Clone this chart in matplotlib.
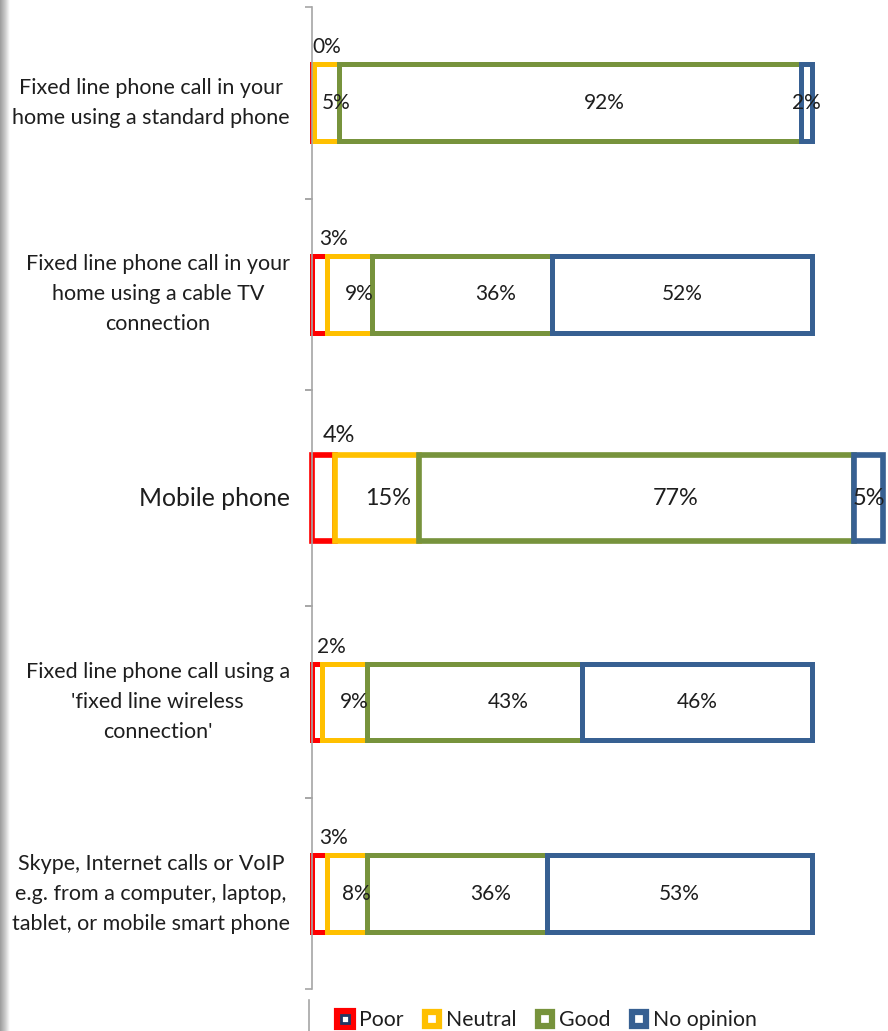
import matplotlib.pyplot as plt
import numpy as np
from matplotlib.lines import Line2D
from matplotlib.colors import LinearSegmentedColormap

plt.rcParams['font.family'] = ['Lato', 'DejaVu Sans']

# Data (percent of respondents)
categories = [
    "Fixed line phone call in your\nhome using a standard phone",
    "Fixed line phone call in your\nhome using a cable TV\nconnection",
    "Mobile phone",
    "Fixed line phone call using a\n'fixed line wireless\nconnection'",
    "Skype, Internet calls or VoIP\ne.g. from a computer, laptop,\ntablet, or mobile smart phone",
]
series = ["Poor", "Neutral", "Good", "No opinion"]
poor = [0.4, 3, 4, 2, 3]
neutral = [5.0, 9, 15, 9, 8]
good = [92.4, 36, 77, 43, 36]
no_opinion = [2.2, 52, 5, 46, 53]

colors = ['#ff0000', '#ffc000', '#77933c', '#376092']
TEXT = '#1e1e1e'
AXIS = '#a6a6a6'

W, H = 888, 1031
fig = plt.figure(figsize=(W / 100, H / 100), dpi=100)

# the mobile row is drawn zoomed in, as in the source image
zoom = [1, 1, 1.13, 1, 1]
row_h = 191.5      # px per row
x0 = 312           # px of the axis line
top = 7

for i, cat in enumerate(categories):
    z = zoom[i]
    h = row_h * z
    ax = fig.add_axes([x0 / W, 1 - (top + h) / H, 500 * z / W, h / H])
    top += h
    ax.set_xlim(0, 100)
    ax.set_ylim(0, 1)
    ax.patch.set_visible(False)
    for s in ['top', 'right', 'bottom']:
        ax.spines[s].set_visible(False)
    ax.spines['left'].set_color(AXIS)
    ax.spines['left'].set_linewidth(1.2)
    ax.set_xticks([])
    ax.set_yticks([0, 1])
    ax.set_yticklabels([])
    ax.tick_params(axis='y', length=5, width=1.2, color=AXIS)

    vals = [poor[i], neutral[i], good[i], no_opinion[i]]
    left = 0
    for j, v in enumerate(vals):
        ax.barh(0.5, v, left=left, height=0.4, color='white',
                edgecolor=colors[j], linewidth=3.6 * z, clip_on=False)
        fs = 15 * z
        if j == 0:
            # Poor label sits above the bar
            ax.annotate(f"{v:.0f}%", xy=(left + v / 2, 0.79), xytext=(10 * z, 0),
                        textcoords='offset points', ha='center', va='center',
                        fontsize=fs, color=TEXT, annotation_clip=False)
        else:
            dx = {1: 7, 2: 24.5, 3: 0}[j] * z
            ax.annotate(f"{v:.0f}%", xy=(left + v / 2, 0.5), xytext=(dx, 0),
                        textcoords='offset points', ha='center', va='center',
                        fontsize=fs, color=TEXT, annotation_clip=False)
        left += v

    ax.annotate(cat, xy=(0, 0.5), xycoords='axes fraction',
                xytext=(-16, 0), textcoords='offset points',
                ha='right', va='center', multialignment='center',
                fontsize=17.8 if z > 1 else 15.5, color=TEXT,
                linespacing=1.62)

# axis line keeps going past the last row
fig.add_artist(Line2D([(x0 - 3) / W] * 2, [0, 1 - 1000 / H],
                      color=AXIS, lw=1.2))

# legend: hollow squares
handles = []
for j, c in enumerate(colors):
    outer = Line2D([], [], ls='none', marker='s', ms=9.5, mew=4.5,
                   mec=c, mfc='white')
    if j == 0:
        outer = (Line2D([], [], ls='none', marker='s', ms=13, mew=3,
                        mec=c, mfc=c),
                 Line2D([], [], ls='none', marker='s', ms=5.5, mew=2,
                        mec='#1f3864', mfc='white'))
    handles.append(outer)
fig.legend(handles, series, loc='center', bbox_to_anchor=(546 / W, 1 - 1020 / H),
           ncol=4, frameon=False, fontsize=15.3, handlelength=0.9,
           handletextpad=0.2, columnspacing=0.9, labelcolor=TEXT,
           borderaxespad=0, borderpad=0)

# grey window edge at the far left
edge = fig.add_axes([0, 0, 9 / W, 1])
cmap = LinearSegmentedColormap.from_list('edge', ['#9c9c9c', '#c8c8c8', '#ffffff'])
edge.imshow(np.linspace(0, 1, 50)[None, :], aspect='auto', cmap=cmap)
edge.axis('off')

fig.savefig('out.png', dpi=100)
